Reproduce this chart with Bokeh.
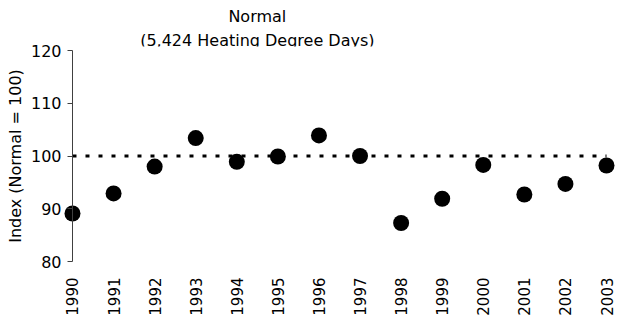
import math
from bokeh.plotting import figure
from bokeh.models import Range1d, LinearAxis, FixedTicker, Label, BoxAnnotation
from bokeh.embed import file_html
from bokeh.resources import INLINE

# Annual heating-degree-day index relative to normal
years = [1990, 1991, 1992, 1993, 1994, 1995, 1996, 1997, 1998, 1999, 2000, 2001, 2002, 2003]
index_values = [89.1, 92.9, 98.0, 103.4, 98.9, 99.9, 103.9, 100.0, 87.3, 91.9, 98.3, 92.7, 94.7, 98.2]
normal_value = 100
y_ticks = [80, 90, 100, 110, 120]
title_lines = ["Normal", "(5,424 Heating Degree Days)"]

FONT = "DejaVu Sans"
W, H = 617, 323
PX_PER_YEAR = 41.08          # horizontal scale of the plot area
PX_PER_UNIT = 5.275          # vertical scale of the plot area
LEFT_PAD, RIGHT_PAD, TOP_PAD, BOTTOM_PAD = 72, 11, 50, 62

y_lo, y_hi = y_ticks[0], y_ticks[-1]

# the data frame covers the whole canvas, so both pinned axes and the
# heading can sit inside it without being clipped
p = figure(
    width=W, height=H,
    output_backend="svg", toolbar_location=None,
    x_range=Range1d(years[0] - LEFT_PAD / PX_PER_YEAR, years[-1] + RIGHT_PAD / PX_PER_YEAR),
    y_range=Range1d(y_lo - BOTTOM_PAD / PX_PER_UNIT, y_hi + TOP_PAD / PX_PER_UNIT),
    min_border_left=0, min_border_right=0, min_border_top=0, min_border_bottom=0,
    frame_height=H, frame_width=W,
    x_axis_location=None, y_axis_location=None,
)
p.outline_line_color = None
p.grid.visible = False
p.background_fill_color = "white"
p.border_fill_color = "white"

# heading, with the plot area's top edge trimming its descenders
for text, y in zip(title_lines, [y_hi + 6.45, y_hi + 1.9]):
    p.add_layout(Label(x=1994.5, y=y, text=text, text_align="center",
                       text_baseline="middle", text_font=FONT, text_font_size="16px",
                       text_color="black", level="underlay"))
p.add_layout(BoxAnnotation(bottom=y_lo, top=y_hi + 4 / PX_PER_UNIT,
                           fill_color="white", fill_alpha=1.0, line_color=None,
                           level="underlay"))

# year labels pinned under the lowest value, no line or ticks
xa = LinearAxis(
    fixed_location=y_lo,
    ticker=FixedTicker(ticks=years),
    axis_line_color=None,
    major_tick_line_color=None,
    minor_tick_line_color=None,
    major_tick_in=0, major_tick_out=0,
    major_label_orientation=math.pi / 2,
    major_label_standoff=16,
    major_label_text_font=FONT,
    major_label_text_font_size="15px",
    major_label_text_color="black",
)
p.add_layout(xa, "below")

# value axis pinned at the first year
ya = LinearAxis(
    fixed_location=years[0],
    bounds=(y_lo, y_hi),
    ticker=FixedTicker(ticks=y_ticks),
    axis_label="Index (Normal = 100)",
    axis_label_text_font=FONT,
    axis_label_text_font_size="16px",
    axis_label_text_font_style="normal",
    axis_label_text_color="black",
    axis_label_standoff=3,
    major_label_text_font=FONT,
    major_label_text_font_size="16px",
    major_label_text_color="black",
    major_label_standoff=6,
    major_tick_in=0, major_tick_out=5,
    minor_tick_line_color=None,
    axis_line_color="#404040",
    major_tick_line_color="#404040",
)
p.add_layout(ya, "left")

# normal reference line across the year span
p.line([years[0], years[-1]], [normal_value, normal_value], line_color="black",
       line_width=3, line_dash="4 9")

p.scatter(years, index_values, size=16, color="black", line_color=None)

open("out.html", "w").write(file_html(p, INLINE))
